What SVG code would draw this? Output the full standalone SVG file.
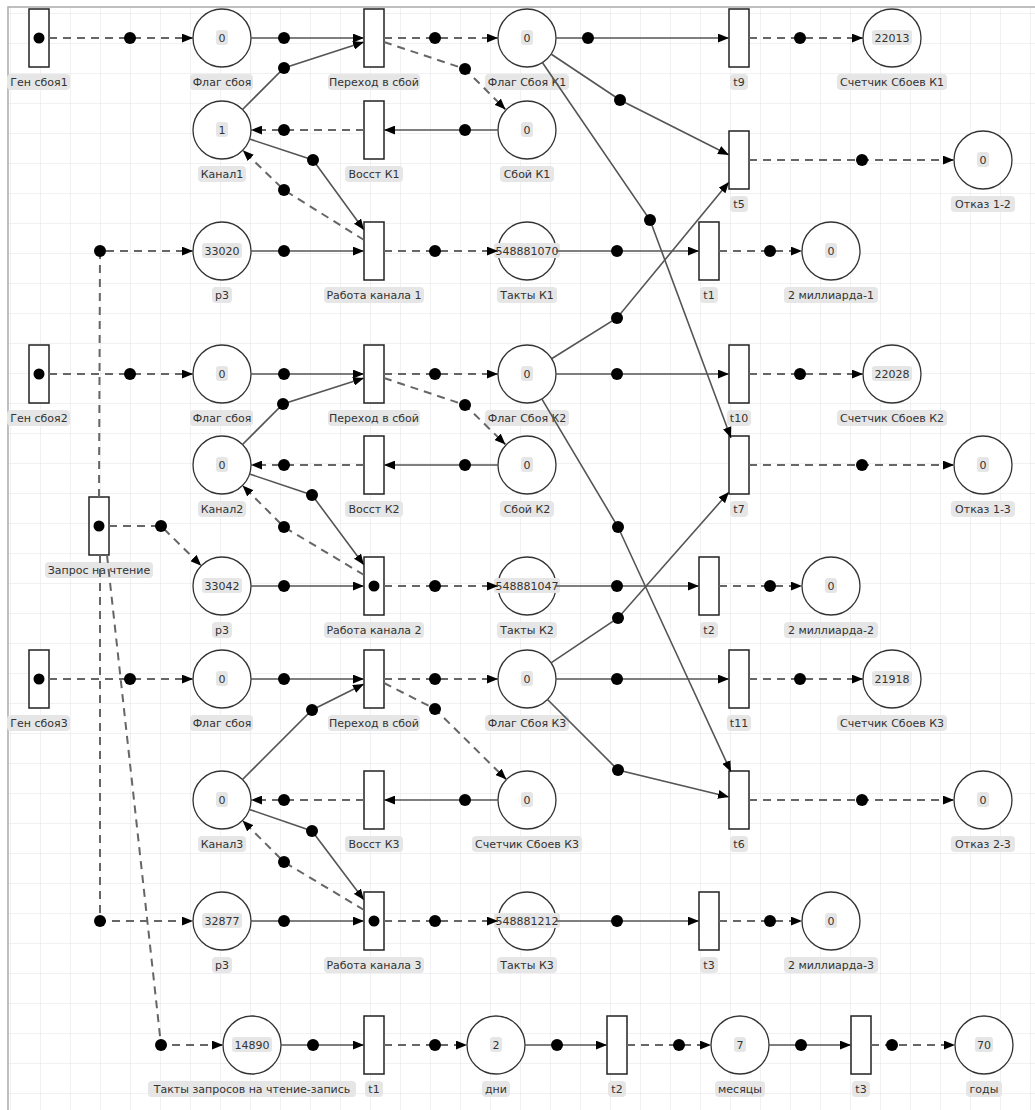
<svg xmlns="http://www.w3.org/2000/svg" width="1035" height="1110" viewBox="0 0 1035 1110">
<defs>
<pattern id="grid" patternUnits="userSpaceOnUse" x="10" y="13" width="30" height="30"><path d="M30 0H0V30" fill="none" stroke="#e3e3e8" stroke-width="1"/></pattern>
<marker id="ar" markerUnits="userSpaceOnUse" viewBox="0 0 10 8" markerWidth="11" markerHeight="9" refX="10" refY="4" orient="auto"><path d="M0,0L10,4L0,8z" fill="#000"/></marker>
<style>
.t{fill:#fff;stroke:#222;stroke-width:1.5}
.p{fill:#fff;stroke:#333;stroke-width:1.3}
.tok,.d{fill:#000}
.lb{fill:#e6e6e6}
.tx{font-family:"DejaVu Sans",Verdana,sans-serif;font-size:11px;fill:#333;text-anchor:middle}
.a{fill:none;stroke:#555;stroke-width:1.6;marker-end:url(#ar)}
.da{fill:none;stroke:#666;stroke-width:2;stroke-dasharray:8 6;marker-end:url(#ar)}
</style>
</defs>
<rect width="1035" height="1110" fill="#fff"/>
<rect x="8" y="7" width="1040" height="1110" fill="url(#grid)" stroke="#aaa" stroke-width="1.5"/>

<g id="nodes">
<!-- transitions -->
<g id="gen1"><rect class="t" x="29" y="9" width="20" height="58"/><circle class="tok" cx="39" cy="38" r="5.5"/><rect class="lb" x="7" y="74" width="63" height="16" rx="4"/><text class="tx" x="39" y="86">Ген сбоя1</text></g>
<g id="per1"><rect class="t" x="364" y="9" width="20" height="58"/><rect class="lb" x="328" y="74" width="92" height="16" rx="4"/><text class="tx" x="374" y="86">Переход в сбой</text></g>
<g id="vos1"><rect class="t" x="364" y="101" width="20" height="58"/><rect class="lb" x="345" y="166" width="58" height="16" rx="4"/><text class="tx" x="374" y="178">Восст К1</text></g>
<g id="rab1"><rect class="t" x="364" y="222" width="20" height="58"/><rect class="lb" x="324" y="287" width="100" height="16" rx="4"/><text class="tx" x="374" y="299">Работа канала 1</text></g>
<g id="t9"><rect class="t" x="729" y="9" width="20" height="58"/><rect class="lb" x="730" y="74" width="18" height="16" rx="4"/><text class="tx" x="739" y="86">t9</text></g>
<g id="t5"><rect class="t" x="729" y="131" width="20" height="58"/><rect class="lb" x="730" y="196" width="18" height="16" rx="4"/><text class="tx" x="739" y="208">t5</text></g>
<g id="t1a"><rect class="t" x="699" y="222" width="20" height="58"/><rect class="lb" x="700" y="287" width="18" height="16" rx="4"/><text class="tx" x="709" y="299">t1</text></g>

<g id="gen2"><rect class="t" x="29" y="345" width="20" height="58"/><circle class="tok" cx="39" cy="374" r="5.5"/><rect class="lb" x="7" y="410" width="63" height="16" rx="4"/><text class="tx" x="39" y="422">Ген сбоя2</text></g>
<g id="per2"><rect class="t" x="364" y="345" width="20" height="58"/><rect class="lb" x="328" y="410" width="92" height="16" rx="4"/><text class="tx" x="374" y="422">Переход в сбой</text></g>
<g id="vos2"><rect class="t" x="364" y="436" width="20" height="58"/><rect class="lb" x="345" y="501" width="58" height="16" rx="4"/><text class="tx" x="374" y="513">Восст К2</text></g>
<g id="zapr"><rect class="t" x="89" y="497" width="20" height="58"/><circle class="tok" cx="99" cy="526" r="5.5"/><rect class="lb" x="45" y="562" width="108" height="16" rx="4"/><text class="tx" x="99" y="574">Запрос на чтение</text></g>
<g id="rab2"><rect class="t" x="364" y="557" width="20" height="58"/><circle class="tok" cx="374" cy="586" r="5.5"/><rect class="lb" x="324" y="622" width="100" height="16" rx="4"/><text class="tx" x="374" y="634">Работа канала 2</text></g>
<g id="t10"><rect class="t" x="729" y="345" width="20" height="58"/><rect class="lb" x="727" y="410" width="24" height="16" rx="4"/><text class="tx" x="739" y="422">t10</text></g>
<g id="t7"><rect class="t" x="729" y="436" width="20" height="58"/><rect class="lb" x="730" y="501" width="18" height="16" rx="4"/><text class="tx" x="739" y="513">t7</text></g>
<g id="t2a"><rect class="t" x="699" y="557" width="20" height="58"/><rect class="lb" x="700" y="622" width="18" height="16" rx="4"/><text class="tx" x="709" y="634">t2</text></g>

<g id="gen3"><rect class="t" x="29" y="650" width="20" height="58"/><circle class="tok" cx="39" cy="679" r="5.5"/><rect class="lb" x="7" y="715" width="63" height="16" rx="4"/><text class="tx" x="39" y="727">Ген сбоя3</text></g>
<g id="per3"><rect class="t" x="364" y="650" width="20" height="58"/><rect class="lb" x="328" y="715" width="92" height="16" rx="4"/><text class="tx" x="374" y="727">Переход в сбой</text></g>
<g id="vos3"><rect class="t" x="364" y="771" width="20" height="58"/><rect class="lb" x="345" y="836" width="58" height="16" rx="4"/><text class="tx" x="374" y="848">Восст К3</text></g>
<g id="rab3"><rect class="t" x="364" y="892" width="20" height="58"/><circle class="tok" cx="374" cy="921" r="5.5"/><rect class="lb" x="324" y="957" width="100" height="16" rx="4"/><text class="tx" x="374" y="969">Работа канала 3</text></g>
<g id="t11"><rect class="t" x="729" y="650" width="20" height="58"/><rect class="lb" x="727" y="715" width="24" height="16" rx="4"/><text class="tx" x="739" y="727">t11</text></g>
<g id="t6"><rect class="t" x="729" y="771" width="20" height="58"/><rect class="lb" x="730" y="836" width="18" height="16" rx="4"/><text class="tx" x="739" y="848">t6</text></g>
<g id="t3a"><rect class="t" x="699" y="892" width="20" height="58"/><rect class="lb" x="700" y="957" width="18" height="16" rx="4"/><text class="tx" x="709" y="969">t3</text></g>

<g id="t1b"><rect class="t" x="364" y="1016" width="20" height="58"/><rect class="lb" x="365" y="1081" width="18" height="16" rx="4"/><text class="tx" x="374" y="1093">t1</text></g>
<g id="t2b"><rect class="t" x="607" y="1016" width="20" height="58"/><rect class="lb" x="608" y="1081" width="18" height="16" rx="4"/><text class="tx" x="617" y="1093">t2</text></g>
<g id="t3b"><rect class="t" x="851" y="1016" width="20" height="58"/><rect class="lb" x="852" y="1081" width="18" height="16" rx="4"/><text class="tx" x="861" y="1093">t3</text></g>

<!-- places -->
<g id="flag1"><circle class="p" cx="222" cy="38" r="29"/><rect class="lb" x="216" y="30" width="12" height="15" rx="3"/><text class="tx" x="222" y="42">0</text><rect class="lb" x="190" y="74" width="63" height="16" rx="4"/><text class="tx" x="222" y="86">Флаг сбоя</text></g>
<g id="kanal1"><circle class="p" cx="222" cy="130" r="29"/><rect class="lb" x="216" y="122" width="12" height="15" rx="3"/><text class="tx" x="222" y="134">1</text><rect class="lb" x="198" y="166" width="48" height="16" rx="4"/><text class="tx" x="222" y="178">Канал1</text></g>
<g id="p3a"><circle class="p" cx="222" cy="251" r="29"/><rect class="lb" x="202" y="243" width="40" height="15" rx="3"/><text class="tx" x="222" y="255">33020</text><rect class="lb" x="212" y="287" width="20" height="16" rx="4"/><text class="tx" x="222" y="299">p3</text></g>
<g id="fk1"><circle class="p" cx="527" cy="38" r="29"/><rect class="lb" x="521" y="30" width="12" height="15" rx="3"/><text class="tx" x="527" y="42">0</text><rect class="lb" x="485" y="74" width="84" height="16" rx="4"/><text class="tx" x="527" y="86">Флаг Сбоя К1</text></g>
<g id="sboy1"><circle class="p" cx="527" cy="130" r="29"/><rect class="lb" x="521" y="122" width="12" height="15" rx="3"/><text class="tx" x="527" y="134">0</text><rect class="lb" x="500" y="166" width="54" height="16" rx="4"/><text class="tx" x="527" y="178">Сбой К1</text></g>
<g id="takty1"><circle class="p" cx="527" cy="251" r="29"/><rect class="lb" x="494" y="243" width="66" height="15" rx="3"/><text class="tx" x="527" y="255">548881070</text><rect class="lb" x="497" y="287" width="60" height="16" rx="4"/><text class="tx" x="527" y="299">Такты К1</text></g>
<g id="sch1"><circle class="p" cx="892" cy="38" r="29"/><rect class="lb" x="872" y="30" width="40" height="15" rx="3"/><text class="tx" x="892" y="42">22013</text><rect class="lb" x="837" y="74" width="110" height="16" rx="4"/><text class="tx" x="892" y="86">Счетчик Сбоев К1</text></g>
<g id="otk12"><circle class="p" cx="983" cy="160" r="29"/><rect class="lb" x="977" y="152" width="12" height="15" rx="3"/><text class="tx" x="983" y="164">0</text><rect class="lb" x="951" y="196" width="64" height="16" rx="4"/><text class="tx" x="983" y="208">Отказ 1-2</text></g>
<g id="mlrd1"><circle class="p" cx="831" cy="251" r="29"/><rect class="lb" x="825" y="243" width="12" height="15" rx="3"/><text class="tx" x="831" y="255">0</text><rect class="lb" x="784" y="287" width="94" height="16" rx="4"/><text class="tx" x="831" y="299">2 миллиарда-1</text></g>

<g id="flag2"><circle class="p" cx="222" cy="374" r="29"/><rect class="lb" x="216" y="366" width="12" height="15" rx="3"/><text class="tx" x="222" y="378">0</text><rect class="lb" x="190" y="410" width="63" height="16" rx="4"/><text class="tx" x="222" y="422">Флаг сбоя</text></g>
<g id="kanal2"><circle class="p" cx="222" cy="465" r="29"/><rect class="lb" x="216" y="457" width="12" height="15" rx="3"/><text class="tx" x="222" y="469">0</text><rect class="lb" x="198" y="501" width="48" height="16" rx="4"/><text class="tx" x="222" y="513">Канал2</text></g>
<g id="p3b"><circle class="p" cx="222" cy="586" r="29"/><rect class="lb" x="202" y="578" width="40" height="15" rx="3"/><text class="tx" x="222" y="590">33042</text><rect class="lb" x="212" y="622" width="20" height="16" rx="4"/><text class="tx" x="222" y="634">p3</text></g>
<g id="fk2"><circle class="p" cx="527" cy="374" r="29"/><rect class="lb" x="521" y="366" width="12" height="15" rx="3"/><text class="tx" x="527" y="378">0</text><rect class="lb" x="485" y="410" width="84" height="16" rx="4"/><text class="tx" x="527" y="422">Флаг Сбоя К2</text></g>
<g id="sboy2"><circle class="p" cx="527" cy="465" r="29"/><rect class="lb" x="521" y="457" width="12" height="15" rx="3"/><text class="tx" x="527" y="469">0</text><rect class="lb" x="500" y="501" width="54" height="16" rx="4"/><text class="tx" x="527" y="513">Сбой К2</text></g>
<g id="takty2"><circle class="p" cx="527" cy="586" r="29"/><rect class="lb" x="494" y="578" width="66" height="15" rx="3"/><text class="tx" x="527" y="590">548881047</text><rect class="lb" x="497" y="622" width="60" height="16" rx="4"/><text class="tx" x="527" y="634">Такты К2</text></g>
<g id="sch2"><circle class="p" cx="892" cy="374" r="29"/><rect class="lb" x="872" y="366" width="40" height="15" rx="3"/><text class="tx" x="892" y="378">22028</text><rect class="lb" x="837" y="410" width="110" height="16" rx="4"/><text class="tx" x="892" y="422">Счетчик Сбоев К2</text></g>
<g id="otk13"><circle class="p" cx="983" cy="465" r="29"/><rect class="lb" x="977" y="457" width="12" height="15" rx="3"/><text class="tx" x="983" y="469">0</text><rect class="lb" x="951" y="501" width="64" height="16" rx="4"/><text class="tx" x="983" y="513">Отказ 1-3</text></g>
<g id="mlrd2"><circle class="p" cx="831" cy="586" r="29"/><rect class="lb" x="825" y="578" width="12" height="15" rx="3"/><text class="tx" x="831" y="590">0</text><rect class="lb" x="784" y="622" width="94" height="16" rx="4"/><text class="tx" x="831" y="634">2 миллиарда-2</text></g>

<g id="flag3"><circle class="p" cx="222" cy="679" r="29"/><rect class="lb" x="216" y="671" width="12" height="15" rx="3"/><text class="tx" x="222" y="683">0</text><rect class="lb" x="190" y="715" width="63" height="16" rx="4"/><text class="tx" x="222" y="727">Флаг сбоя</text></g>
<g id="kanal3"><circle class="p" cx="222" cy="800" r="29"/><rect class="lb" x="216" y="792" width="12" height="15" rx="3"/><text class="tx" x="222" y="804">0</text><rect class="lb" x="198" y="836" width="48" height="16" rx="4"/><text class="tx" x="222" y="848">Канал3</text></g>
<g id="p3c"><circle class="p" cx="222" cy="921" r="29"/><rect class="lb" x="202" y="913" width="40" height="15" rx="3"/><text class="tx" x="222" y="925">32877</text><rect class="lb" x="212" y="957" width="20" height="16" rx="4"/><text class="tx" x="222" y="969">p3</text></g>
<g id="fk3"><circle class="p" cx="527" cy="679" r="29"/><rect class="lb" x="521" y="671" width="12" height="15" rx="3"/><text class="tx" x="527" y="683">0</text><rect class="lb" x="485" y="715" width="84" height="16" rx="4"/><text class="tx" x="527" y="727">Флаг Сбоя К3</text></g>
<g id="schk3"><circle class="p" cx="527" cy="800" r="29"/><rect class="lb" x="521" y="792" width="12" height="15" rx="3"/><text class="tx" x="527" y="804">0</text><rect class="lb" x="472" y="836" width="110" height="16" rx="4"/><text class="tx" x="527" y="848">Счетчик Сбоев К3</text></g>
<g id="takty3"><circle class="p" cx="527" cy="921" r="29"/><rect class="lb" x="494" y="913" width="66" height="15" rx="3"/><text class="tx" x="527" y="925">548881212</text><rect class="lb" x="497" y="957" width="60" height="16" rx="4"/><text class="tx" x="527" y="969">Такты К3</text></g>
<g id="sch3"><circle class="p" cx="892" cy="679" r="29"/><rect class="lb" x="872" y="671" width="40" height="15" rx="3"/><text class="tx" x="892" y="683">21918</text><rect class="lb" x="837" y="715" width="110" height="16" rx="4"/><text class="tx" x="892" y="727">Счетчик Сбоев К3</text></g>
<g id="otk23"><circle class="p" cx="983" cy="800" r="29"/><rect class="lb" x="977" y="792" width="12" height="15" rx="3"/><text class="tx" x="983" y="804">0</text><rect class="lb" x="951" y="836" width="64" height="16" rx="4"/><text class="tx" x="983" y="848">Отказ 2-3</text></g>
<g id="mlrd3"><circle class="p" cx="831" cy="921" r="29"/><rect class="lb" x="825" y="913" width="12" height="15" rx="3"/><text class="tx" x="831" y="925">0</text><rect class="lb" x="784" y="957" width="94" height="16" rx="4"/><text class="tx" x="831" y="969">2 миллиарда-3</text></g>

<g id="taktyz"><circle class="p" cx="252" cy="1045" r="29"/><rect class="lb" x="232" y="1037" width="40" height="15" rx="3"/><text class="tx" x="252" y="1049">14890</text><rect class="lb" x="148" y="1081" width="208" height="16" rx="4"/><text class="tx" x="252" y="1093">Такты запросов на чтение-запись</text></g>
<g id="dni"><circle class="p" cx="496" cy="1045" r="29"/><rect class="lb" x="490" y="1037" width="12" height="15" rx="3"/><text class="tx" x="496" y="1049">2</text><rect class="lb" x="482" y="1081" width="28" height="16" rx="4"/><text class="tx" x="496" y="1093">дни</text></g>
<g id="mes"><circle class="p" cx="740" cy="1045" r="29"/><rect class="lb" x="734" y="1037" width="12" height="15" rx="3"/><text class="tx" x="740" y="1049">7</text><rect class="lb" x="715" y="1081" width="50" height="16" rx="4"/><text class="tx" x="740" y="1093">месяцы</text></g>
<g id="gody"><circle class="p" cx="984" cy="1045" r="29"/><rect class="lb" x="975" y="1037" width="18" height="15" rx="3"/><text class="tx" x="984" y="1049">70</text><rect class="lb" x="966" y="1081" width="36" height="16" rx="4"/><text class="tx" x="984" y="1093">годы</text></g>
</g>

<g id="connectors">
<path class="da" d="M49,38L130,38L193,38"/>
<path class="a" d="M251,38L284,38L364,38"/>
<path class="a" d="M242.5,109.5L284,68L364,42"/>
<path class="da" d="M384,38L435,38L498,38"/>
<path class="da" d="M384,42L465,69L505.5,109.5"/>
<path class="a" d="M498,130L465,130L384,130"/>
<path class="da" d="M364,130L284,130L251,130"/>
<path class="a" d="M249.5,139L313,160L364,230"/>
<path class="da" d="M364,240L284,190L242.8,150.2"/>
<path class="da" d="M99,497L100,251L193,251"/>
<path class="a" d="M251,251L284,251L364,251"/>
<path class="da" d="M384,251L435,251L498,251"/>
<path class="a" d="M556,251L617,251L699,251"/>
<path class="da" d="M719,251L770,251L802,251"/>
<path class="a" d="M556,38L588,38L729,38"/>
<path class="da" d="M749,38L800,38L863,38"/>
<path class="a" d="M551,54L620,100L729,155"/>
<path class="a" d="M542,62L650,220L731,438"/>
<path class="da" d="M749,160L862,160L954,160"/>

<path class="da" d="M49,374L130,374L193,374"/>
<path class="a" d="M251,374L284,374L364,374"/>
<path class="a" d="M242.5,444.5L283,404L364,378"/>
<path class="da" d="M384,374L435,374L498,374"/>
<path class="da" d="M384,378L465,405L505.5,444.5"/>
<path class="a" d="M556,374L617,374L729,374"/>
<path class="da" d="M749,374L800,374L863,374"/>
<path class="a" d="M551.6,358.7L617,318L729,182"/>
<path class="a" d="M541.8,398.9L618,527L731,772"/>
<path class="a" d="M498,465L465,465L384,465"/>
<path class="da" d="M364,465L284,465L251,465"/>
<path class="a" d="M249.5,474L312,495L364,565"/>
<path class="da" d="M364,575L284,527L242.5,485.5"/>
<path class="da" d="M749,465L862,465L954,465"/>
<path class="da" d="M109,526L161,526L201.3,565.7"/>

<path class="a" d="M251,586L284,586L364,586"/>
<path class="da" d="M384,586L435,586L498,586"/>
<path class="a" d="M556,586L617,586L699,586"/>
<path class="da" d="M719,586L770,586L802,586"/>
<path class="a" d="M551,662.8L618,618L729,492"/>

<path class="da" d="M49,679L130,679L193,679"/>
<path class="a" d="M251,679L284,679L364,679"/>
<path class="a" d="M242.5,779.5L312,710L364,684"/>
<path class="da" d="M384,679L435,679L498,679"/>
<path class="da" d="M384,683L435,709L506.4,779.6"/>
<path class="a" d="M556,679L617,679L729,679"/>
<path class="da" d="M749,679L800,679L863,679"/>
<path class="a" d="M547.5,699.5L618,770L729,797"/>

<path class="a" d="M498,800L465,800L384,800"/>
<path class="da" d="M364,800L284,800L251,800"/>
<path class="a" d="M249.4,809.4L312,831L364,900"/>
<path class="da" d="M364,910L284,862L242.5,820.5"/>
<path class="da" d="M749,800L862,800L954,800"/>

<path class="da" d="M100,555L100,921L193,921"/>
<path class="a" d="M251,921L284,921L364,921"/>
<path class="da" d="M384,921L435,921L498,921"/>
<path class="a" d="M556,921L617,921L699,921"/>
<path class="da" d="M719,921L770,921L802,921"/>

<path class="da" d="M107,555L161,1045L223,1045"/>
<path class="a" d="M281,1045L313,1045L364,1045"/>
<path class="da" d="M384,1045L435,1045L467,1045"/>
<path class="a" d="M525,1045L557,1045L607,1045"/>
<path class="da" d="M627,1045L679,1045L711,1045"/>
<path class="a" d="M769,1045L801,1045L851,1045"/>
<path class="da" d="M871,1045L892,1045L955,1045"/>

<g class="d">
<circle cx="130" cy="38" r="6"/><circle cx="284" cy="38" r="6"/><circle cx="435" cy="38" r="6"/><circle cx="588" cy="38" r="6"/><circle cx="800" cy="38" r="6"/><circle cx="284" cy="68" r="6"/><circle cx="465" cy="69" r="6"/>
<circle cx="284" cy="130" r="6"/><circle cx="465" cy="130" r="6"/><circle cx="313" cy="160" r="6"/><circle cx="284" cy="190" r="6"/><circle cx="620" cy="100" r="6"/><circle cx="862" cy="160" r="6"/><circle cx="650" cy="220" r="6"/>
<circle cx="100" cy="251" r="6"/><circle cx="284" cy="251" r="6"/><circle cx="435" cy="251" r="6"/><circle cx="617" cy="251" r="6"/><circle cx="770" cy="251" r="6"/>
<circle cx="130" cy="374" r="6"/><circle cx="284" cy="374" r="6"/><circle cx="435" cy="374" r="6"/><circle cx="617" cy="374" r="6"/><circle cx="800" cy="374" r="6"/><circle cx="283" cy="404" r="6"/><circle cx="465" cy="405" r="6"/><circle cx="617" cy="318" r="6"/>
<circle cx="284" cy="465" r="6"/><circle cx="465" cy="465" r="6"/><circle cx="312" cy="495" r="6"/><circle cx="284" cy="527" r="6"/><circle cx="161" cy="526" r="6"/><circle cx="862" cy="465" r="6"/><circle cx="618" cy="527" r="6"/>
<circle cx="284" cy="586" r="6"/><circle cx="435" cy="586" r="6"/><circle cx="617" cy="586" r="6"/><circle cx="770" cy="586" r="6"/><circle cx="618" cy="618" r="6"/>
<circle cx="130" cy="679" r="6"/><circle cx="284" cy="679" r="6"/><circle cx="435" cy="679" r="6"/><circle cx="617" cy="679" r="6"/><circle cx="800" cy="679" r="6"/><circle cx="312" cy="710" r="6"/><circle cx="435" cy="709" r="6"/><circle cx="618" cy="770" r="6"/>
<circle cx="284" cy="800" r="6"/><circle cx="465" cy="800" r="6"/><circle cx="312" cy="831" r="6"/><circle cx="284" cy="862" r="6"/><circle cx="862" cy="800" r="6"/>
<circle cx="100" cy="921" r="6"/><circle cx="284" cy="921" r="6"/><circle cx="435" cy="921" r="6"/><circle cx="617" cy="921" r="6"/><circle cx="770" cy="921" r="6"/>
<circle cx="161" cy="1045" r="6"/><circle cx="313" cy="1045" r="6"/><circle cx="435" cy="1045" r="6"/><circle cx="557" cy="1045" r="6"/><circle cx="679" cy="1045" r="6"/><circle cx="801" cy="1045" r="6"/><circle cx="892" cy="1045" r="6"/>
</g>
</g>
</svg>
